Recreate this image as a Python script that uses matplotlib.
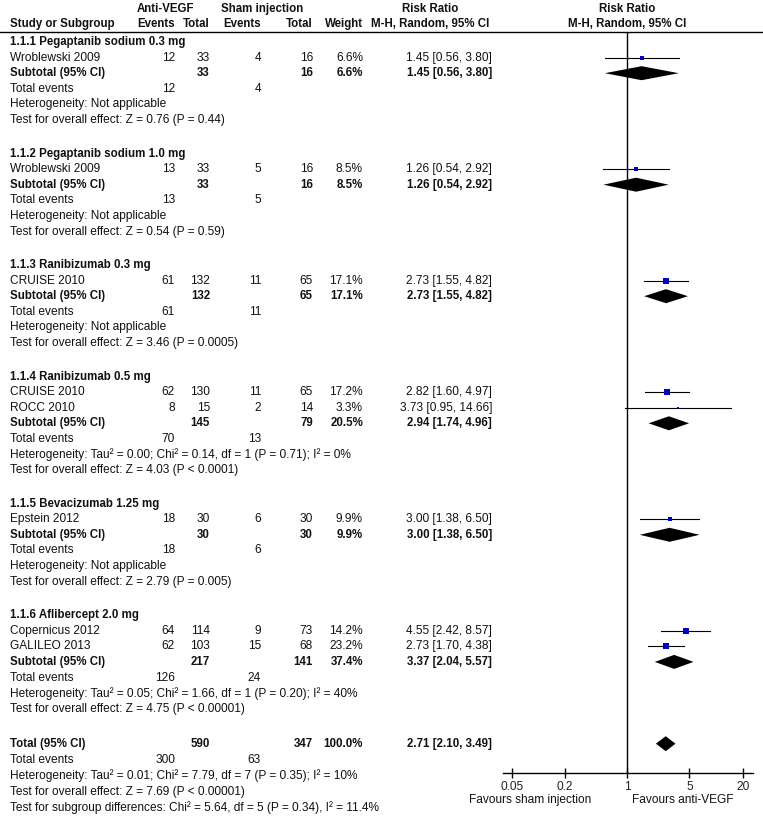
import matplotlib
matplotlib.use("Agg")
import matplotlib.pyplot as plt
from matplotlib.patches import Polygon

# ---------------- data ----------------
subgroups = ["1.1.1 Pegaptanib sodium 0.3 mg", "1.1.2 Pegaptanib sodium 1.0 mg",
             "1.1.3 Ranibizumab 0.3 mg", "1.1.4 Ranibizumab 0.5 mg",
             "1.1.5 Bevacizumab 1.25 mg", "1.1.6 Aflibercept 2.0 mg"]
study_group = [0, 1, 2, 3, 3, 4, 5, 5]
study_names = ["Wroblewski 2009", "Wroblewski 2009", "CRUISE 2010", "CRUISE 2010",
               "ROCC 2010", "Epstein 2012", "Copernicus 2012", "GALILEO 2013"]
anti_events = [12, 13, 61, 62, 8, 18, 64, 62]
anti_totals = [33, 33, 132, 130, 15, 30, 114, 103]
sham_events = [4, 5, 11, 11, 2, 6, 9, 15]
sham_totals = [16, 16, 65, 65, 14, 30, 73, 68]
study_weights = [6.6, 8.5, 17.1, 17.2, 3.3, 9.9, 14.2, 23.2]
study_rr = [1.45, 1.26, 2.73, 2.82, 3.73, 3.00, 4.55, 2.73]
study_lo = [0.56, 0.54, 1.55, 1.60, 0.95, 1.38, 2.42, 1.70]
study_hi = [3.80, 2.92, 4.82, 4.97, 14.66, 6.50, 8.57, 4.38]

sub_anti_total = [33, 33, 132, 145, 30, 217]
sub_sham_total = [16, 16, 65, 79, 30, 141]
sub_weight = [6.6, 8.5, 17.1, 20.5, 9.9, 37.4]
sub_rr = [1.45, 1.26, 2.73, 2.94, 3.00, 3.37]
sub_lo = [0.56, 0.54, 1.55, 1.74, 1.38, 2.04]
sub_hi = [3.80, 2.92, 4.82, 4.96, 6.50, 5.57]
sub_anti_events = [12, 13, 61, 70, 18, 126]
sub_sham_events = [4, 5, 11, 13, 6, 24]
sub_het = ["Heterogeneity: Not applicable",
           "Heterogeneity: Not applicable",
           "Heterogeneity: Not applicable",
           "Heterogeneity: Tau\u00b2 = 0.00; Chi\u00b2 = 0.14, df = 1 (P = 0.71); I\u00b2 = 0%",
           "Heterogeneity: Not applicable",
           "Heterogeneity: Tau\u00b2 = 0.05; Chi\u00b2 = 1.66, df = 1 (P = 0.20); I\u00b2 = 40%"]
sub_test = ["Test for overall effect: Z = 0.76 (P = 0.44)",
            "Test for overall effect: Z = 0.54 (P = 0.59)",
            "Test for overall effect: Z = 3.46 (P = 0.0005)",
            "Test for overall effect: Z = 4.03 (P < 0.0001)",
            "Test for overall effect: Z = 2.79 (P = 0.005)",
            "Test for overall effect: Z = 4.75 (P < 0.00001)"]

total_anti = 590
total_sham = 347
total_weight = 100.0
total_rr, total_lo, total_hi = 2.71, 2.10, 3.49
total_anti_events = 300
total_sham_events = 63
total_het = "Heterogeneity: Tau\u00b2 = 0.01; Chi\u00b2 = 7.79, df = 7 (P = 0.35); I\u00b2 = 10%"
total_test = "Test for overall effect: Z = 7.69 (P < 0.00001)"
subgroup_diff = "Test for subgroup differences: Chi\u00b2 = 5.64, df = 5 (P = 0.34), I\u00b2 = 11.4%"

xticks = [0.05, 0.2, 1, 5, 20]
xtick_labels = ["0.05", "0.2", "1", "5", "20"]

# ---------------- layout ----------------
W, H = 763, 816
FONT = "Liberation Sans"
FS = 8.6
FS_B = 8.3
plt.rcParams['font.family'] = [FONT, 'DejaVu Sans']

fig = plt.figure(figsize=(W / 100, H / 100), dpi=100)
ax = fig.add_axes([0, 0, 1, 1])
ax.set_xlim(0, W)
ax.set_ylim(H, 0)
ax.axis("off")

AX_L, AX_R, AX_TOP, AX_BOT = 503, 753, 32, 773
fax = fig.add_axes([AX_L / W, 1 - AX_BOT / H, (AX_R - AX_L) / W, (AX_BOT - AX_TOP) / H])
fax.set_xscale("log")
fax.set_xlim(0.04, 26)
fax.set_ylim(AX_BOT, AX_TOP)
fax.patch.set_alpha(0)
for s in ["left", "right", "top"]:
    fax.spines[s].set_visible(False)
fax.spines["bottom"].set_linewidth(1.0)
fax.set_yticks([])
fax.set_xticks(xticks)
fax.set_xticklabels(xtick_labels, fontsize=FS, color="#222222")
fax.minorticks_off()
fax.tick_params(axis="x", direction="inout", length=7, width=1, pad=2)
fax.axvline(1, color="black", lw=1)

X_NAME = 10
X_AE, X_AT, X_SE, X_ST, X_W, X_RR = 175, 210, 261, 313, 363, 492


def t(x, y, s, ha="left", bold=False, **kw):
    ax.text(x, y, s, ha=ha, va="center", fontsize=FS_B if bold else FS,
            fontweight="bold" if bold else "normal", color="#111111", **kw)


# headers
t(165, 9, "Anti-VEGF", ha="center", bold=True)
t(262, 9, "Sham injection", ha="center", bold=True)
t(430, 9, "Risk Ratio", ha="center", bold=True)
t(627, 9, "Risk Ratio", ha="center", bold=True)
t(X_NAME, 24, "Study or Subgroup", bold=True)
t(X_AE, 24, "Events", ha="right", bold=True)
t(X_AT, 24, "Total", ha="right", bold=True)
t(X_SE, 24, "Events", ha="right", bold=True)
t(X_ST, 24, "Total", ha="right", bold=True)
t(X_W, 24, "Weight", ha="right", bold=True)
t(430, 24, "M-H, Random, 95% CI", ha="center", bold=True)
t(627, 24, "M-H, Random, 95% CI", ha="center", bold=True)
ax.plot([0, W], [32, 32], color="black", lw=1)

STEP = 15.6
GAP = 33.5
y = 42
for g, name in enumerate(subgroups):
    t(X_NAME, y, name, bold=True)
    for i, sg in enumerate(study_group):
        if sg != g:
            continue
        y += STEP
        t(X_NAME, y, study_names[i])
        t(X_AE, y, str(anti_events[i]), ha="right")
        t(X_AT, y, str(anti_totals[i]), ha="right")
        t(X_SE, y, str(sham_events[i]), ha="right")
        t(X_ST, y, str(sham_totals[i]), ha="right")
        t(X_W, y, f"{study_weights[i]:.1f}%", ha="right")
        t(X_RR, y, f"{study_rr[i]:.2f} [{study_lo[i]:.2f}, {study_hi[i]:.2f}]", ha="right")
        fax.plot([study_lo[i], study_hi[i]], [y, y], color="black", lw=0.8)
        side = 1.35 * study_weights[i] ** 0.5
        fax.plot([study_rr[i]], [y], marker="s", ms=side * 0.72, color="#0000c8",
                 mec="#0000c8", mew=0)
    y += STEP
    t(X_NAME, y, "Subtotal (95% CI)", bold=True)
    t(X_AT, y, str(sub_anti_total[g]), ha="right", bold=True)
    t(X_ST, y, str(sub_sham_total[g]), ha="right", bold=True)
    t(X_W, y, f"{sub_weight[g]:.1f}%", ha="right", bold=True)
    t(X_RR, y, f"{sub_rr[g]:.2f} [{sub_lo[g]:.2f}, {sub_hi[g]:.2f}]", ha="right", bold=True)
    fax.add_patch(Polygon([(sub_lo[g], y), (sub_rr[g], y - 7), (sub_hi[g], y), (sub_rr[g], y + 7)],
                          closed=True, color="black", lw=0))
    y += STEP
    t(X_NAME, y, "Total events")
    t(X_AE, y, str(sub_anti_events[g]), ha="right")
    t(X_SE, y, str(sub_sham_events[g]), ha="right")
    y += STEP
    t(X_NAME, y, sub_het[g])
    y += STEP
    t(X_NAME, y, sub_test[g])
    y += GAP

# overall
y += 1.5
t(X_NAME, y, "Total (95% CI)", bold=True)
t(X_AT, y, str(total_anti), ha="right", bold=True)
t(X_ST, y, str(total_sham), ha="right", bold=True)
t(X_W, y, f"{total_weight:.1f}%", ha="right", bold=True)
t(X_RR, y, f"{total_rr:.2f} [{total_lo:.2f}, {total_hi:.2f}]", ha="right", bold=True)
fax.add_patch(Polygon([(total_lo, y), (total_rr, y - 7.5), (total_hi, y), (total_rr, y + 7.5)],
                      closed=True, color="black", lw=0))
y += 16
t(X_NAME, y, "Total events")
t(X_AE, y, str(total_anti_events), ha="right")
t(X_SE, y, str(total_sham_events), ha="right")
y += 16
t(X_NAME, y, total_het)
y += 16
t(X_NAME, y, total_test)
y += 16
t(X_NAME, y, subgroup_diff)

t(530, 800, "Favours sham injection", ha="center")
t(683, 800, "Favours anti-VEGF", ha="center")

fig.savefig("out.png", dpi=100)
